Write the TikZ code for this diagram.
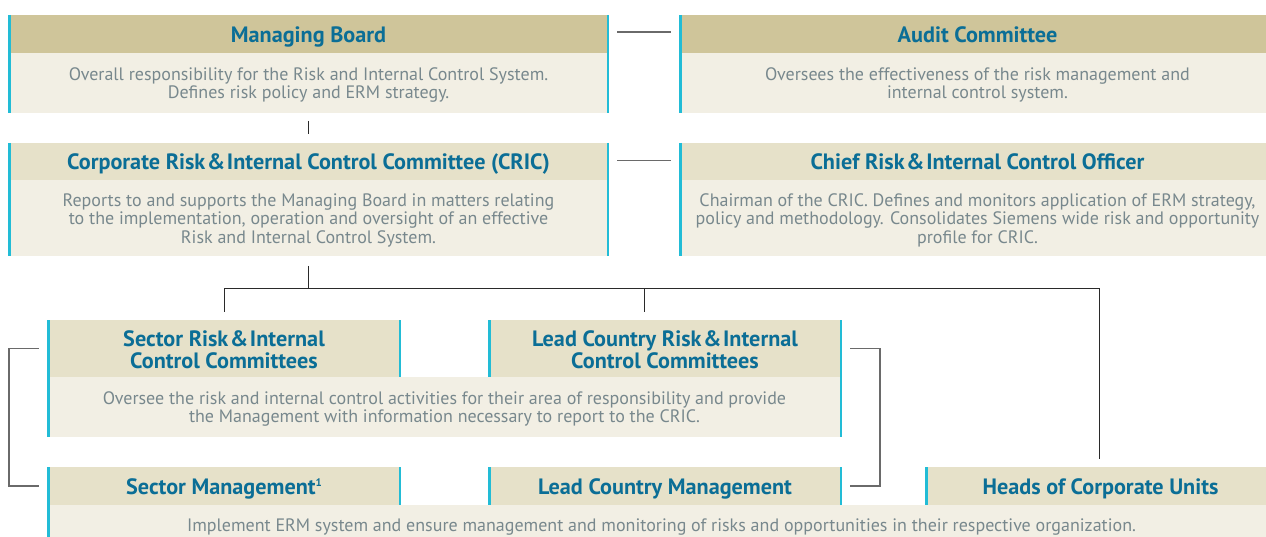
\documentclass[tikz,border=0pt]{standalone}
\usepackage{fontspec}
\setmainfont{PT Sans}
\definecolor{hdrdark}{HTML}{CFC59A}
\definecolor{hdrlight}{HTML}{E6E1C9}
\definecolor{bodybg}{HTML}{F2EFE4}
\definecolor{barcyan}{HTML}{22BCD6}
\definecolor{ttl}{HTML}{0B6E96}
\definecolor{txt}{HTML}{78888D}
\definecolor{linedark}{HTML}{2A2A2A}
\definecolor{linegray}{HTML}{6A6A6A}
\newcommand{\amp}{\hspace{0.08em}\&\hspace{0.08em}}
\begin{document}
\begin{tikzpicture}[x=1pt,y=-1pt,
  hdr/.style={anchor=north west, inner sep=0pt, outer sep=0pt, fill=hdrlight,
    text=ttl, align=center, font=\fontsize{22.2}{22}\selectfont\bfseries,
    text height=20pt, text depth=3.5pt},
  hdrtwo/.style={anchor=north west, inner sep=0pt, outer sep=0pt, fill=hdrlight},
  ttltwo/.style={inner sep=0pt, text=ttl, align=center, font=\fontsize{22.2}{22}\selectfont\bfseries},
  bodybox/.style={anchor=north west, inner sep=0pt, outer sep=0pt, fill=bodybg},
  bodytext/.style={inner sep=0pt, text=txt, align=center, font=\fontsize{18}{18.5}\selectfont},
  bar/.style={draw=barcyan, line width=2.5pt},
  conn/.style={draw=linedark, line width=1pt},
  bracket/.style={draw=linegray, line width=1.3pt},
]
\useasboundingbox (0,0) rectangle (1266,537);
% Managing Board
\node[hdr, fill=hdrdark, minimum width=601pt, minimum height=38pt] (mbh) at (8,15) {Managing Board};
\node[bodybox, minimum width=601pt, minimum height=60pt] (mbb) at (8,53) {};
\node[bodytext] (mbbt) at ([yshift=-2pt]mbb.center) {Overall responsibility for the Risk and Internal Control System.\\Defines risk policy and ERM strategy.};
% Audit Committee
\node[hdr, fill=hdrdark, minimum width=597pt, minimum height=38pt] (ach) at (679,15) {Audit Committee};
\node[bodybox, minimum width=597pt, minimum height=60pt] (acb) at (679,53) {};
\node[bodytext] (acbt) at ([yshift=-2pt]acb.center) {Oversees the effectiveness of the risk management and\\internal control system.};
% CRIC
\node[hdr, minimum width=601pt, minimum height=37pt] (crich) at (8,143) {Corporate Risk\amp Internal Control Committee (CRIC)};
\node[bodybox, minimum width=601pt, minimum height=76pt] (cricb) at (8,180) {};
\node[bodytext] (cricbt) at ([yshift=-2pt]cricb.center) {Reports to and supports the Managing Board in matters relating\\to the implementation, operation and oversight of an effective\\Risk and Internal Control System.};
% Chief
\node[hdr, minimum width=597pt, minimum height=37pt] (crh) at (679,143) {Chief Risk\amp Internal Control Officer};
\node[bodybox, minimum width=597pt, minimum height=76pt] (crb) at (679,180) {};
\node[bodytext] (crbt) at ([yshift=-2pt]crb.center) {Chairman of the CRIC. Defines and monitors application of ERM strategy,\\policy and methodology. Consolidates Siemens wide risk and opportunity\\profile for CRIC.};
% Sector / Lead country committees
\node[hdrtwo, minimum width=354pt, minimum height=57pt] (srh) at (47,320) {};
\node[ttltwo] (srht) at ([yshift=-1pt]srh.center) {Sector Risk\amp Internal\\Control Committees};
\node[hdrtwo, minimum width=354pt, minimum height=57pt] (lch) at (488,320) {};
\node[ttltwo] (lcht) at ([yshift=-1pt]lch.center) {Lead Country Risk\amp Internal\\Control Committees};
\node[bodybox, minimum width=795pt, minimum height=60pt] (comb) at (47,377) {};
\node[bodytext] (combt) at ([yshift=-2pt]comb.center) {Oversee the risk and internal control activities for their area of responsibility and provide\\the Management with information necessary to report to the CRIC.};
% Management row
\node[hdr, minimum width=354pt, minimum height=38pt] (smh) at (47,467) {Sector Management\raisebox{8pt}{\fontsize{11}{11}\selectfont 1}};
\node[hdr, minimum width=354pt, minimum height=38pt] (lmh) at (488,467) {Lead Country Management};
\node[hdr, minimum width=351pt, minimum height=38pt] (hch) at (925,467) {Heads of Corporate Units};
\node[bodybox, minimum width=1229pt, minimum height=39pt] (mgb) at (47,505) {};
\node[bodytext] (mgbt) at ([yshift=-2.5pt]mgb.center) {Implement ERM system and ensure management and monitoring of risks and opportunities in their respective organization.};
% cyan bars
\draw[bar] ([xshift=1.25pt]mbh.north west) -- ([xshift=1.25pt]mbb.south west);
\draw[bar] ([xshift=-1.25pt]mbh.north east) -- ([xshift=-1.25pt]mbb.south east);
\draw[bar] ([xshift=1.25pt]ach.north west) -- ([xshift=1.25pt]acb.south west);
\draw[bar] ([xshift=1.25pt]crich.north west) -- ([xshift=1.25pt]cricb.south west);
\draw[bar] ([xshift=-1.25pt]crich.north east) -- ([xshift=-1.25pt]cricb.south east);
\draw[bar] ([xshift=1.25pt]crh.north west) -- ([xshift=1.25pt]crb.south west);
\draw[bar] ([xshift=1.25pt]srh.north west) -- ([xshift=1.25pt]comb.south west);
\draw[bar] ([xshift=-1.25pt]srh.north east) -- ([xshift=-1.25pt]srh.south east);
\draw[bar] ([xshift=1.25pt]lch.north west) -- ([xshift=1.25pt]lch.south west);
\draw[bar] ([xshift=-1.25pt]lch.north east) -- ([xshift=-1.25pt]comb.south east);
\draw[bar] ([xshift=1.25pt]smh.north west) -- ([xshift=1.25pt]mgb.south west);
\draw[bar] ([xshift=-1.25pt]smh.north east) -- ([xshift=-1.25pt]smh.south east);
\draw[bar] ([xshift=1.25pt]lmh.north west) -- ([xshift=1.25pt]lmh.south west);
\draw[bar] ([xshift=-1.25pt]lmh.north east) -- ([xshift=-1.25pt]lmh.south east);
\draw[bar] ([xshift=1.25pt]hch.north west) -- ([xshift=1.25pt]hch.south west);
% connectors
\draw[bracket, line width=1.2pt] ([xshift=8pt,yshift=2pt]mbh.east) -- ([xshift=-8pt,yshift=2pt]ach.west);
\draw[bracket, line width=1.2pt] ([xshift=8pt,yshift=1pt]crich.east) -- ([xshift=-8pt,yshift=1pt]crh.west);
\draw[conn] ([yshift=-8pt]mbb.south) -- ([yshift=9pt]crich.north);
\coordinate (junc) at (308.5,289);
\draw[conn] ([yshift=-10pt]cricb.south) -- (junc);
\draw[conn] (junc) -| ([yshift=8pt]srh.north);
\draw[conn] (junc) -| ([xshift=-21pt,yshift=8pt]lch.north);
\draw[conn] (junc) -| ([xshift=-1pt,yshift=8pt]hch.north);
\draw[bracket] ([xshift=-8pt]srh.west) -- ++(-30pt,0) |- ([xshift=-8pt]smh.west);
\draw[bracket] ([xshift=8pt]lch.east) -- ++(30pt,0) |- ([xshift=8pt]lmh.east);
\end{tikzpicture}
\end{document}
